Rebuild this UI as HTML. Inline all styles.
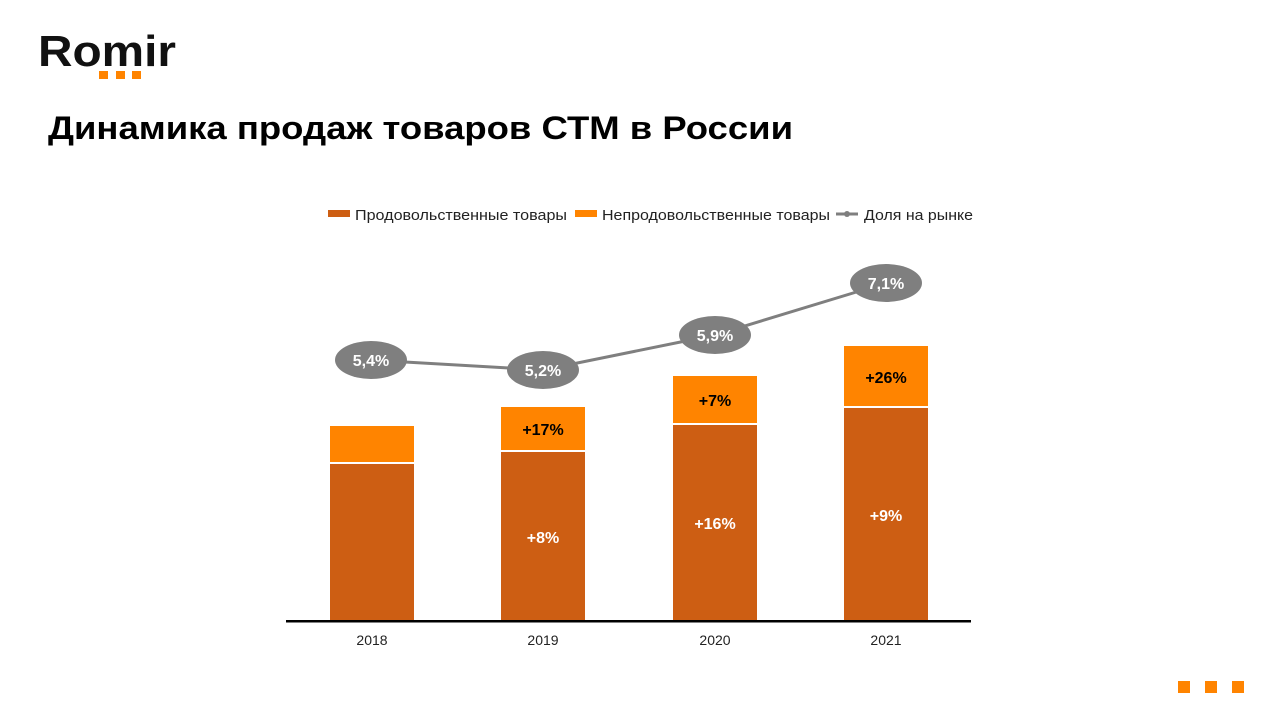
<!DOCTYPE html>
<html><head><meta charset="utf-8"><style>
body{margin:0;width:1280px;height:720px;background:#fff;font-family:"Liberation Sans",sans-serif;overflow:hidden}
</style></head><body>
<svg width="1280" height="720" xmlns="http://www.w3.org/2000/svg" font-family="Liberation Sans, sans-serif">
<text x="38" y="66" font-size="44" font-weight="bold" fill="#111" textLength="138" lengthAdjust="spacingAndGlyphs">Romir</text>
<rect x="99" y="71" width="9" height="8" fill="#ff8400"/><rect x="116" y="71" width="9" height="8" fill="#ff8400"/><rect x="132" y="71" width="9" height="8" fill="#ff8400"/>
<text x="48" y="139" font-size="32" font-weight="bold" fill="#000" textLength="745" lengthAdjust="spacingAndGlyphs">Динамика продаж товаров СТМ в России</text>
<rect x="328" y="210" width="22" height="7" fill="#cd5e13"/><text x="355" y="220" font-size="15" fill="#222" textLength="212" lengthAdjust="spacingAndGlyphs">Продовольственные товары</text>
<rect x="575" y="210" width="22" height="7" fill="#ff8400"/><text x="602" y="220" font-size="15" fill="#222" textLength="228" lengthAdjust="spacingAndGlyphs">Непродовольственные товары</text>
<line x1="836" y1="214" x2="858" y2="214" stroke="#7f7f7f" stroke-width="3"/><circle cx="847" cy="214" r="3" fill="#7f7f7f"/><text x="864" y="220" font-size="15" fill="#222" textLength="109" lengthAdjust="spacingAndGlyphs">Доля на рынке</text>
<g fill="#cd5e13"><rect x="330" y="464" width="84" height="156"/><rect x="501" y="452" width="84" height="168"/><rect x="673" y="425" width="84" height="195"/><rect x="844" y="408" width="84" height="212"/></g>
<g fill="#ff8400"><rect x="330" y="426" width="84" height="36"/><rect x="501" y="407" width="84" height="43"/><rect x="673" y="376" width="84" height="47"/><rect x="844" y="346" width="84" height="60"/></g>
<rect x="286" y="620" width="685" height="2.5" fill="#000"/>
<g font-size="14" fill="#222" text-anchor="middle"><text x="372" y="645">2018</text><text x="543" y="645">2019</text><text x="715" y="645">2020</text><text x="886" y="645">2021</text></g>
<g font-size="16" font-weight="bold" text-anchor="middle">
<text x="543" y="435" fill="#000">+17%</text><text x="715" y="406" fill="#000">+7%</text><text x="886" y="383" fill="#000">+26%</text>
<text x="543" y="543" fill="#fff">+8%</text><text x="715" y="529" fill="#fff">+16%</text><text x="886" y="521" fill="#fff">+9%</text></g>
<polyline points="371,360 543,370 715,335 886,283" fill="none" stroke="#7f7f7f" stroke-width="3"/>
<g fill="#7f7f7f"><ellipse cx="371" cy="360" rx="36" ry="19"/><ellipse cx="543" cy="370" rx="36" ry="19"/><ellipse cx="715" cy="335" rx="36" ry="19"/><ellipse cx="886" cy="283" rx="36" ry="19"/></g>
<g font-size="16" font-weight="bold" fill="#fff" text-anchor="middle"><text x="371" y="366">5,4%</text><text x="543" y="376">5,2%</text><text x="715" y="341">5,9%</text><text x="886" y="289">7,1%</text></g>
<g fill="#ff8400"><rect x="1178" y="681" width="12" height="12"/><rect x="1205" y="681" width="12" height="12"/><rect x="1232" y="681" width="12" height="12"/></g>
</svg>
</body></html>
